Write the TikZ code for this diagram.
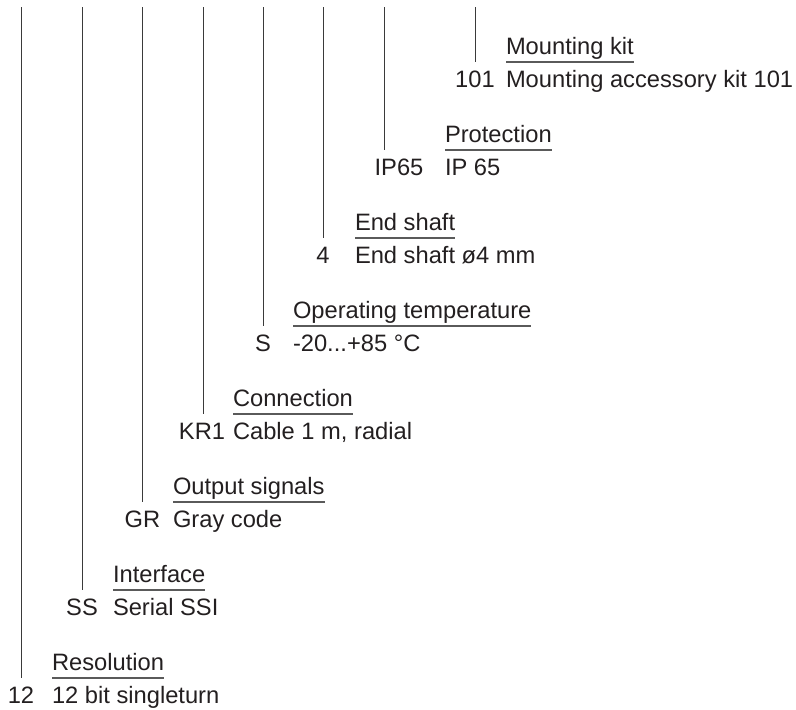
\documentclass[tikz,border=0pt]{standalone}
\usepackage{fontspec}
\setmainfont{Liberation Sans}
\definecolor{txt}{HTML}{231F20}
\definecolor{ln}{HTML}{3A3A3A}
\definecolor{ul}{HTML}{5A5A5A}
% #1 name, #2 underline y, #3 lead x, #4 code x, #5 desc x, #6 code, #7 heading, #8 description
\newcommand\codegroup[8]{%
  \coordinate (u#1) at (#5,#2);
  \coordinate (t#1) at (#3,7);
  \node[headtext] (h#1) at (#5,#2-7.5) {#7};
  \node[codetext] (c#1) at (#4,#2+25) {#6};
  \node[desctext] (d#1) at (#5,#2+25) {#8};
  \draw[uline] (u#1) -- (u#1 -| h#1.base east);
  \draw[lead] (t#1) -- (t#1 |- u#1);
}
\begin{document}
\begin{tikzpicture}[x=1pt,y=-1pt,
  every node/.style={inner sep=0pt, outer sep=0pt, text=txt, font=\fontsize{23.7}{28}\selectfont},
  headtext/.style={anchor=base west},
  desctext/.style={anchor=base west},
  codetext/.style={anchor=base},
  lead/.style={draw=ln, line width=1pt},
  uline/.style={draw=ul, line width=1.3pt}]
\useasboundingbox (0,0) rectangle (796,710);
\codegroup{0}{678}{21}{21}{52}{12}{Resolution}{12 bit singleturn}
\codegroup{1}{590}{82}{82}{113}{SS}{Interface}{Serial SSI}
\codegroup{2}{502}{142}{142.5}{173}{GR}{Output signals}{Gray code}
\codegroup{3}{414}{203}{202}{233}{KR1}{Connection}{Cable 1 m, radial}
\codegroup{4}{326}{263}{263}{293}{S}{Operating temperature}{-20...+85 °C}
\codegroup{5}{238}{323}{323}{355}{4}{End shaft}{End shaft ø4 mm}
\codegroup{6}{150}{384}{399}{445}{IP65}{Protection}{IP 65}
\codegroup{7}{62}{475}{475}{506}{101}{Mounting kit}{Mounting accessory kit 101}
\end{tikzpicture}
\end{document}
